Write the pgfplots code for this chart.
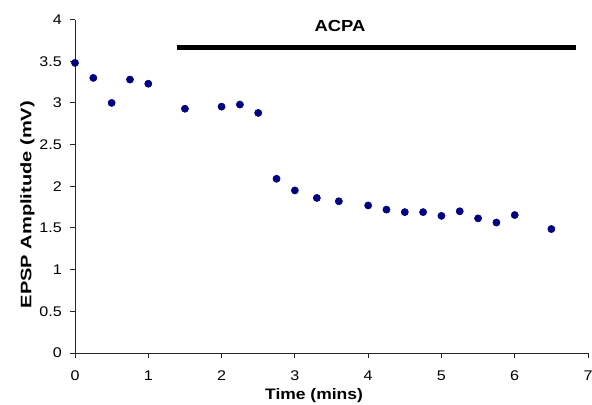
\documentclass[border=0pt]{standalone}
\usepackage{fontspec}
\setmainfont{Liberation Sans}[FakeStretch=1.15]
\usepackage{pgfplots}
\pgfplotsset{compat=1.18}
\definecolor{navy}{HTML}{000080}
\begin{document}
\begin{tikzpicture}[x=1pt,y=1pt]
\begin{axis}[
  scale only axis,
  width=384.75pt, height=250.1pt,
  xmin=0, xmax=7, ymin=0, ymax=4,
  axis lines=left,
  axis line style={-, line width=0.75pt, black!85},
  xtick={0,1,...,7},
  ytick={0,0.5,...,4},
  tick align=outside,
  major tick length=3.75pt,
  tick style={line width=0.75pt, black!85},
  /pgf/number format/assume math mode=true,
  yticklabel style={font=\fontsize{10.5}{12}\selectfont, anchor=east, inner sep=0pt, xshift=-6pt},
  xticklabel style={font=\fontsize{10.5}{12}\selectfont, anchor=center, inner sep=0pt, yshift=-13.5pt},
  xlabel={Time (mins)},
  ylabel={EPSP Amplitude (mV)},
  xlabel style={font=\fontsize{11.4}{13}\selectfont\bfseries, at={(axis description cs:0.466,-0.128)}, anchor=center, inner sep=0pt},
  ylabel style={font=\fontsize{11.4}{13}\selectfont\bfseries\addfontfeature{FakeStretch=1.32}, at={(axis description cs:-0.0925,0.445)}, anchor=center, inner sep=0pt},
  clip=false,
]
\addplot[only marks, mark=*, mark size=2.7pt, navy, mark options={fill=navy, draw=navy}] coordinates {
(0,3.48) (0.25,3.30) (0.5,3.00) (0.75,3.28) (1.0,3.23)
(1.5,2.93) (2.0,2.955) (2.25,2.98) (2.5,2.88) (2.75,2.09)
(3.0,1.95) (3.3,1.86) (3.6,1.82) (4.0,1.77) (4.25,1.72)
(4.5,1.69) (4.75,1.69) (5.0,1.645) (5.25,1.70) (5.5,1.615)
(5.75,1.565) (6.0,1.655) (6.5,1.487)
};
\addplot[black, line width=3.2pt, no marks] coordinates {(1.387,3.663) (6.83,3.663)};
\node[font=\fontsize{12}{14}\selectfont\bfseries, anchor=center, inner sep=0pt] at (axis cs:3.615,3.92) {ACPA};
\end{axis}
\pgfresetboundingbox
\path (-56.25pt,-38.25pt) rectangle (387.75pt,264.75pt);
\end{tikzpicture}
\end{document}
